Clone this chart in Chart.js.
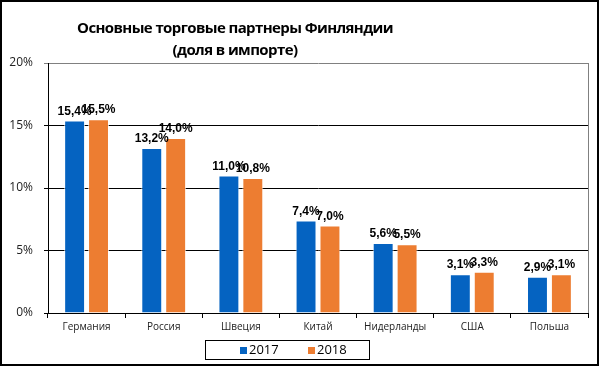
<!DOCTYPE html>
<html>
<head>
<meta charset="utf-8">
<script src="https://cdn.jsdelivr.net/npm/chart.js@4"></script>
<style>
  body { margin: 0; background: #fff; }
  .frame {
    position: relative;
    width: 599px;
    height: 366px;
    box-sizing: border-box;
    border: 2px solid #000;
    overflow: hidden;
  }
  .chart-box { position: absolute; left: -2px; top: -2px; width: 599px; height: 366px; }
  .title {
    position: absolute;
    left: 0;
    top: 14px;
    width: 466px;
    text-align: center;
    font: bold 15px "Open Sans", sans-serif;
    line-height: 22px;
    color: #000;
    letter-spacing: -0.6px;
  }
  .legend {
    position: absolute;
    left: 203px;
    top: 338px;
    width: 165px;
    height: 20px;
    box-sizing: border-box;
    border: 1.5px solid #000;
    font: 13px "Open Sans", sans-serif;
    color: #000;
  }
  .legend span { position: absolute; top: 0; line-height: 17px; }
  .legend i { display: inline-block; width: 7px; height: 7px; margin-right: 2px; vertical-align: 0px; }
</style>
</head>
<body>
<div class="frame">
  <div class="chart-box"><canvas id="partnersChart"></canvas></div>
  <div class="title">Основные торговые партнеры Финляндии<br>(доля в импорте)</div>
  <div class="legend" id="legend"></div>
</div>
<script>
const categories = ['Германия', 'Россия', 'Швеция', 'Китай', 'Нидерланды', 'США', 'Польша'];
const seriesNames = ['2017', '2018'];
const share2017 = [15.4, 13.2, 11.0, 7.4, 5.6, 3.1, 2.9];
const share2018 = [15.5, 14.0, 10.8, 7.0, 5.5, 3.3, 3.1];
const yTicks = [0, 5, 10, 15, 20];

const colors = ['#0563c1', '#ed7d31'];

function fmtPct(v) {
  return v.toFixed(1).replace('.', ',') + '%';
}

/* value labels above bars */
const barLabels = {
  id: 'barLabels',
  afterDatasetsDraw(chart) {
    const ctx = chart.ctx;
    ctx.save();
    ctx.font = 'bold 12px "Liberation Sans", Arial, sans-serif';
    ctx.fillStyle = '#000';
    ctx.textAlign = 'center';
    chart.data.datasets.forEach((ds, i) => {
      chart.getDatasetMeta(i).data.forEach((bar, j) => {
        ctx.fillText(fmtPct(ds.data[j]), bar.x, bar.y - 6);
      });
    });
    ctx.restore();
  }
};

/* thin gray right edge of plot area */
const plotEdge = {
  id: 'plotEdge',
  beforeDatasetsDraw(chart) {
    const a = chart.chartArea;
    const ctx = chart.ctx;
    ctx.save();
    ctx.strokeStyle = '#808080';
    ctx.lineWidth = 1;
    ctx.beginPath();
    ctx.moveTo(a.right + 0.5, a.top);
    ctx.lineTo(a.right + 0.5, a.bottom);
    ctx.stroke();
    ctx.restore();
  }
};

const ctx = document.getElementById('partnersChart').getContext('2d');
new Chart(ctx, {
  type: 'bar',
  data: {
    labels: categories,
    datasets: [
      {
        label: seriesNames[0],
        data: share2017,
        backgroundColor: colors[0],
        borderColor: 'rgba(255,255,255,0.7)',
        borderWidth: 1,
        barPercentage: 0.875,
        categoryPercentage: 0.62
      },
      {
        label: seriesNames[1],
        data: share2018,
        backgroundColor: colors[1],
        borderColor: 'rgba(255,255,255,0.7)',
        borderWidth: 1,
        barPercentage: 0.875,
        categoryPercentage: 0.62
      }
    ]
  },
  options: {
    responsive: true,
    maintainAspectRatio: false,
    animation: false,
    layout: { padding: { top: 63, right: 11, left: 0, bottom: 0 } },
    plugins: {
      legend: { display: false },
      tooltip: { enabled: false }
    },
    scales: {
      x: {
        grid: { drawOnChartArea: false, drawTicks: true, tickLength: 5, color: '#000' },
        border: { color: '#000', width: 1 },
        ticks: { font: { family: 'Open Sans', size: 10 }, color: '#222', padding: 3 },
        afterFit: s => { s.height = 53; }
      },
      y: {
        min: 0,
        max: 20,
        afterBuildTicks: s => { s.ticks = yTicks.map(v => ({ value: v })); },
        ticks: {
          callback: v => v + '%',
          font: { family: 'Open Sans', size: 12 },
          color: '#222',
          padding: 11
        },
        grid: {
          color: c => (c.tick && c.tick.value === 20 ? '#808080' : '#000'),
          tickLength: 4,
          lineWidth: 1
        },
        border: { color: '#000', width: 1 },
        afterFit: s => { s.width = 48; }
      }
    }
  },
  plugins: [barLabels, plotEdge]
});

/* legend */
const legend = document.getElementById('legend');
const legendX = [34, 102];
seriesNames.forEach((name, i) => {
  const item = document.createElement('span');
  item.style.left = legendX[i] + 'px';
  item.innerHTML = '<i style="background:' + colors[i] + '"></i>' + name;
  legend.appendChild(item);
});
</script>
</body>
</html>
